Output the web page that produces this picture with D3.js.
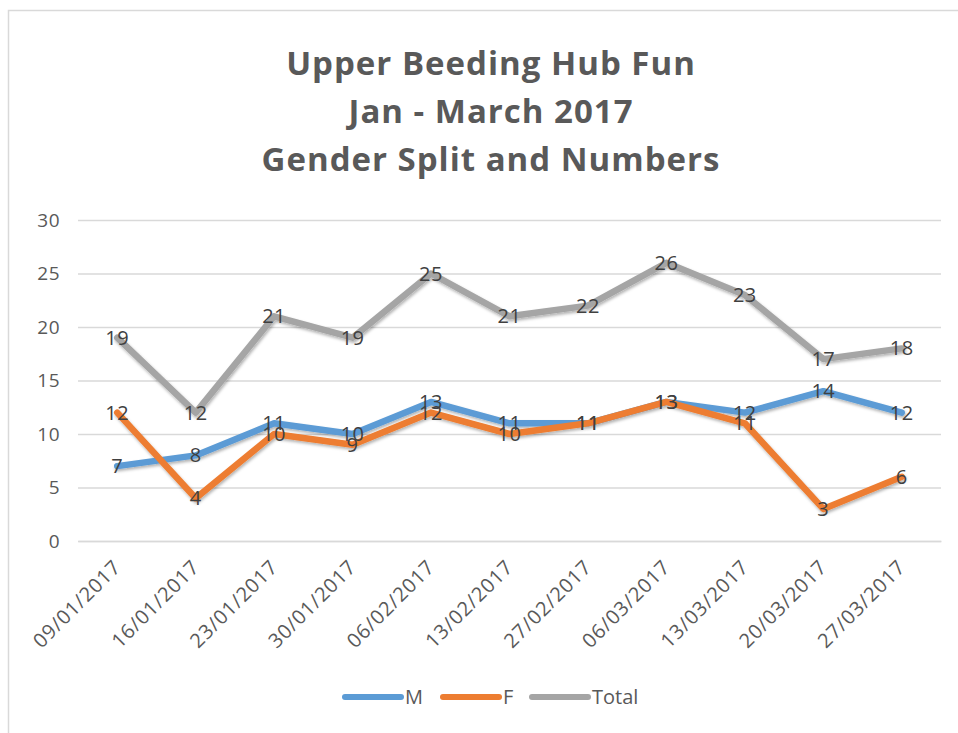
<!DOCTYPE html>
<html>
<head>
<meta charset="utf-8">
<script src="https://cdn.jsdelivr.net/npm/d3@7"></script>
<style>
  body { margin: 0; background: #fff; }
  text { font-family: "Open Sans", sans-serif; }
</style>
</head>
<body>
<div id="chart"></div>
<script>
const dates = ["09/01/2017", "16/01/2017", "23/01/2017", "30/01/2017", "06/02/2017",
  "13/02/2017", "27/02/2017", "06/03/2017", "13/03/2017", "20/03/2017", "27/03/2017"];
const maleCounts = [7, 8, 11, 10, 13, 11, 11, 13, 12, 14, 12];
const femaleCounts = [12, 4, 10, 9, 12, 10, 11, 13, 11, 3, 6];
const totalCounts = [19, 12, 21, 19, 25, 21, 22, 26, 23, 17, 18];
const yTicks = [0, 5, 10, 15, 20, 25, 30];
const titleLines = ["Upper Beeding Hub Fun", "Jan - March 2017", "Gender Split and Numbers"];

const series = [
  { name: "M", values: maleCounts, color: "#5b9bd5" },
  { name: "F", values: femaleCounts, color: "#ed7d31" },
  { name: "Total", values: totalCounts, color: "#a5a5a5" },
];

const width = 958, height = 733;
const margin = { top: 220, right: 17, bottom: 192, left: 78 };

const svg = d3.select("#chart").append("svg")
  .attr("width", width)
  .attr("height", height);

// chart border (runs off the right and bottom edge like the reference)
svg.append("rect")
  .attr("x", 8.5).attr("y", 10.5)
  .attr("width", 960).attr("height", 740)
  .attr("fill", "#fff")
  .attr("stroke", "#d9d9d9")
  .attr("stroke-width", 1.5);

const defs = svg.append("defs");
const shadow = defs.append("filter").attr("id", "shadow")
  .attr("x", "-10%").attr("y", "-10%").attr("width", "120%").attr("height", "130%");
shadow.append("feDropShadow")
  .attr("dx", 1).attr("dy", 2).attr("stdDeviation", 1.5)
  .attr("flood-color", "#000").attr("flood-opacity", 0.3);

// title
svg.append("g").selectAll("text")
  .data(titleLines)
  .join("text")
  .attr("x", 491)
  .attr("y", (d, i) => 75 + i * 48)
  .attr("text-anchor", "middle")
  .attr("font-size", 33)
  .attr("font-weight", "bold")
  .attr("letter-spacing", 1)
  .attr("fill", "#595959")
  .text((d) => d);

const x = d3.scalePoint()
  .domain(dates)
  .range([margin.left, width - margin.right])
  .padding(0.5);

const y = d3.scaleLinear()
  .domain([0, 30])
  .range([height - margin.bottom, margin.top]);

// gridlines + y labels
svg.append("g")
  .attr("transform", `translate(${margin.left},0)`)
  .call(d3.axisLeft(y).tickValues(yTicks).tickSize(-(width - margin.left - margin.right)).tickPadding(18))
  .call((g) => g.select(".domain").remove())
  .call((g) => g.selectAll(".tick line").attr("stroke", "#d9d9d9").attr("stroke-width", 1.3))
  .call((g) => g.selectAll(".tick text")
    .attr("fill", "#595959")
    .attr("font-size", 19)
    .attr("letter-spacing", 0.5)
    .attr("font-family", "Open Sans, sans-serif"));

// x axis
svg.append("g")
  .attr("transform", `translate(0,${height - margin.bottom})`)
  .call(d3.axisBottom(x).tickSize(0).tickPadding(12))
  .call((g) => g.select(".domain").attr("stroke", "#d9d9d9").attr("stroke-width", 1.3))
  .call((g) => g.selectAll(".tick text")
    .attr("fill", "#595959")
    .attr("font-size", 20)
    .attr("letter-spacing", 0.8)
    .attr("font-family", "Open Sans, sans-serif")
    .attr("text-anchor", "end")
    .attr("dy", "0.35em")
    .attr("transform", "translate(-9,14) rotate(-45)"));

const line = d3.line()
  .x((d, i) => x(dates[i]))
  .y((d) => y(d));

const lines = svg.append("g").attr("filter", "url(#shadow)");
lines.selectAll("path")
  .data(series)
  .join("path")
  .attr("d", (d) => line(d.values))
  .attr("fill", "none")
  .attr("stroke", (d) => d.color)
  .attr("stroke-width", 6.5)
  .attr("stroke-linejoin", "round")
  .attr("stroke-linecap", "round");

// data labels
series.forEach((s) => {
  svg.append("g").selectAll("text")
    .data(s.values)
    .join("text")
    .attr("x", (d, i) => x(dates[i]))
    .attr("y", (d) => y(d))
    .attr("dy", "0.35em")
    .attr("text-anchor", "middle")
    .attr("font-size", 20)
    .attr("letter-spacing", 0.5)
    .attr("fill", "#404040")
    .text((d) => d);
});

// legend
const legendX = [345, 443, 532];
const legend = svg.append("g").selectAll("g")
  .data(series)
  .join("g")
  .attr("transform", (d, i) => `translate(${legendX[i]},697)`);
legend.append("line")
  .attr("x1", 0).attr("x2", 56)
  .attr("stroke", (d) => d.color)
  .attr("stroke-width", 6)
  .attr("stroke-linecap", "round");
legend.append("text")
  .attr("x", 60)
  .attr("dy", "0.35em")
  .attr("font-size", 20)
  .attr("fill", "#595959")
  .text((d) => d.name);
</script>
</body>
</html>
